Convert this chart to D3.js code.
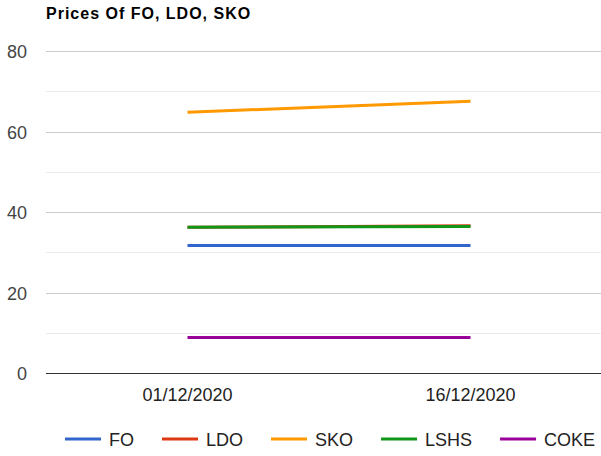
<!DOCTYPE html>
<html>
<head>
<meta charset="utf-8">
<script src="https://cdn.jsdelivr.net/npm/d3@7"></script>
<style>
  html, body { margin: 0; padding: 0; background: #fff; }
  svg { display: block; font-family: Arial, "Liberation Sans", sans-serif; }
</style>
</head>
<body>
<svg id="chart" width="601" height="456"></svg>
<script>
const title = "Prices Of FO, LDO, SKO";
const categories = ["01/12/2020", "16/12/2020"];
const seriesNames = ["FO", "LDO", "SKO", "LSHS", "COKE"];
const seriesColors = ["#3366cc", "#dc3912", "#ff9900", "#109618", "#990099"];
const FO = [31.7, 31.7];
const LDO = [36.2, 36.6];
const SKO = [64.8, 67.5];
const LSHS = [36.2, 36.4];
const COKE = [8.8, 8.8];
const seriesValues = [FO, LDO, SKO, LSHS, COKE];
const majorTicks = [0, 20, 40, 60, 80];
const minorTicks = [10, 30, 50, 70];

(function () {
const svg = d3.select("#chart");
const W = 601;
const pLeft = 46, pRight = 612, pTop = 51, pBottom = 373;

const x = d3.scaleBand().domain(categories).range([pLeft, pRight]);
const y = d3.scaleLinear().domain([0, 80]).range([pBottom, pTop]);

// title
svg.append("text").attr("x", 46).attr("y", 18.5)
  .attr("font-size", 16).attr("font-weight", "bold").attr("fill", "#000")
  .attr("letter-spacing", 1)
  .text(title);

// minor gridlines
svg.append("g").selectAll("line").data(minorTicks).join("line")
  .attr("x1", pLeft).attr("x2", W)
  .attr("y1", d => Math.round(y(d)) + 0.5).attr("y2", d => Math.round(y(d)) + 0.5)
  .attr("stroke", "#ebebeb").attr("stroke-width", 1);

// major gridlines
svg.append("g").selectAll("line").data(majorTicks.filter(d => d !== 0)).join("line")
  .attr("x1", pLeft).attr("x2", W)
  .attr("y1", d => Math.round(y(d)) + 0.5).attr("y2", d => Math.round(y(d)) + 0.5)
  .attr("stroke", "#cccccc").attr("stroke-width", 1);

// y labels
svg.append("g").selectAll("text").data(majorTicks).join("text")
  .attr("x", 27).attr("y", d => y(d) + 7)
  .attr("text-anchor", "end").attr("font-size", 18).attr("fill", "#444")
  .text(d => d);

// x labels
svg.append("g").selectAll("text").data(categories).join("text")
  .attr("x", d => x(d) + x.bandwidth() / 2).attr("y", 400.5)
  .attr("text-anchor", "middle").attr("font-size", 18).attr("fill", "#222")
  .text(d => d);

// lines
const line = d3.line()
  .x((d, i) => x(categories[i]) + x.bandwidth() / 2)
  .y(d => y(d));
svg.append("g").selectAll("path").data(seriesValues).join("path")
  .attr("d", d => line(d))
  .attr("fill", "none")
  .attr("stroke", (d, i) => seriesColors[i])
  .attr("stroke-width", 3);

// baseline
svg.append("line").attr("x1", pLeft).attr("x2", W)
  .attr("y1", Math.round(y(0)) + 0.5).attr("y2", Math.round(y(0)) + 0.5)
  .attr("stroke", "#333").attr("stroke-width", 1);

// legend
let lx = 65;
const legendY = 439;
seriesNames.forEach((name, i) => {
  const g = svg.append("g").attr("transform", `translate(${lx},${legendY})`);
  g.append("line").attr("x1", 0).attr("x2", 36).attr("y1", 0).attr("y2", 0)
    .attr("stroke", seriesColors[i]).attr("stroke-width", 3);
  const t = g.append("text").attr("x", 44).attr("y", 6.5)
    .attr("font-size", 18).attr("fill", "#222").text(name);
  lx += 44 + t.node().getComputedTextLength() + 28;
});
})();
</script>
</body>
</html>
